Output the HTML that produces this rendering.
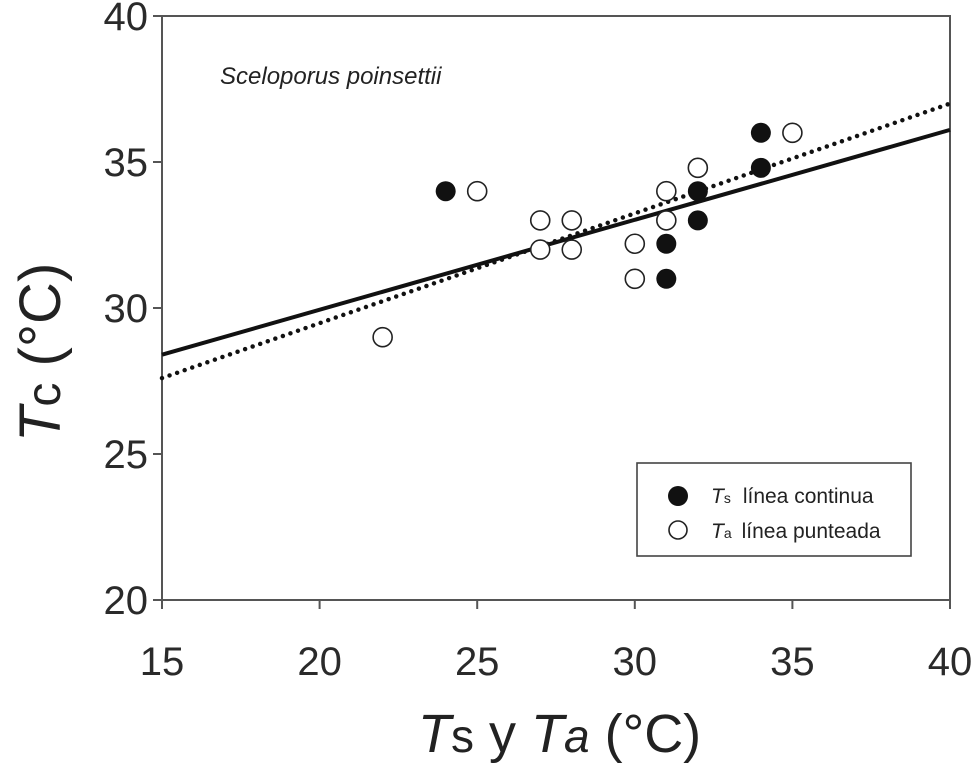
<!DOCTYPE html>
<html><head><meta charset="utf-8"><style>
html,body{margin:0;padding:0;background:#fff;}
svg{display:block;font-family:"Liberation Sans",sans-serif;}
</style></head><body>
<svg id="chart" width="973" height="764" viewBox="0 0 973 764">
<g id="plot"></g>
</svg>
<script>
const xTicks=[15,20,25,30,35,40];
const yTicks=[20,25,30,35,40];
const tsX=[24,31,31,32,32,34,34];
const tsY=[34,32.2,31,34,33,36,34.8];
const taX=[22,25,27,27,28,28,30,30,31,31,32,35];
const taY=[29,34,33,32,33,32,32.2,31,34,33,34.8,36];
const solidLine=[[15,28.4],[40,36.1]];
const dottedLine=[[15,27.6],[40,37.0]];
const L=162,R=950,T=16,B=600;
const sx=v=>L+(v-15)/(40-15)*(R-L);
const sy=v=>B-(v-20)/(40-20)*(B-T);
const NS="http://www.w3.org/2000/svg";
const g=document.getElementById('plot');
function mk(tag,attrs,parent){const e=document.createElementNS(NS,tag);for(const k in attrs)e.setAttribute(k,attrs[k]);(parent||g).appendChild(e);return e;}
let e=mk('rect',{x:L,y:T,width:R-L,height:B-T,fill:'none',stroke:'#555','stroke-width':2});


xTicks.forEach(v=>{
 let t=mk('line',{x1:sx(v),x2:sx(v),y1:B,y2:B+9,stroke:'#555','stroke-width':2});
 
 
 let l=mk('text',{x:sx(v),y:675,'font-size':40,'text-anchor':'middle',fill:'#2a2a2a'});
 l.textContent=v;
 
 
});
yTicks.forEach(v=>{
 let t=mk('line',{x1:L-9,x2:L,y1:sy(v),y2:sy(v),stroke:'#555','stroke-width':2});
 
 
 let l=mk('text',{x:L-14,y:sy(v)+14,'font-size':40,'text-anchor':'end',fill:'#2a2a2a'});
 l.textContent=v;
 
 
});
let s=mk('line',{x1:sx(solidLine[0][0]),y1:sy(solidLine[0][1]),x2:sx(solidLine[1][0]),y2:sy(solidLine[1][1]),stroke:'#111','stroke-width':4});


let d=mk('line',{x1:sx(dottedLine[0][0]),y1:sy(dottedLine[0][1]),x2:sx(dottedLine[1][0]),y2:sy(dottedLine[1][1]),stroke:'#111','stroke-width':4.5,'stroke-dasharray':'0 8','stroke-linecap':'round'});


taX.forEach((x,i)=>{
 let c=mk('circle',{cx:sx(x),cy:sy(taY[i]),r:9.5,fill:'#fff',stroke:'#222','stroke-width':1.6});
 
 
});
tsX.forEach((x,i)=>{
 let c=mk('circle',{cx:sx(x),cy:sy(tsY[i]),r:10,fill:'#111'});
 
 
});
</script>
<svg style="position:absolute;left:0;top:0" width="973" height="764">
<text x="220" y="84" font-size="24" font-style="italic" fill="#222">Sceloporus poinsettii</text>
<g>
<rect x="637" y="463" width="274" height="93" fill="#fff" stroke="#444" stroke-width="1.6"/>
<circle cx="678" cy="496" r="10" fill="#111"/>
<text x="711" y="503" font-size="21" fill="#222"><tspan font-style="italic">T</tspan><tspan font-size="14">s</tspan><tspan dx="12">línea continua</tspan></text>
<circle cx="678" cy="530" r="9" fill="#fff" stroke="#222" stroke-width="1.6"/>
<text x="711" y="538" font-size="21" fill="#222"><tspan font-style="italic">T</tspan><tspan font-size="14">a</tspan><tspan dx="10">línea punteada</tspan></text>
</g>
<text x="418" y="752" font-size="54" fill="#222"><tspan font-style="italic">T</tspan><tspan font-size="46">s</tspan> y <tspan font-style="italic">T</tspan><tspan font-size="46" font-style="italic">a</tspan> (°C)</text>
<text transform="translate(60,442) rotate(-90)" font-size="58" fill="#222"><tspan font-style="italic">T</tspan><tspan font-size="48">c</tspan> (°C)</text>
</svg>
</body></html>
